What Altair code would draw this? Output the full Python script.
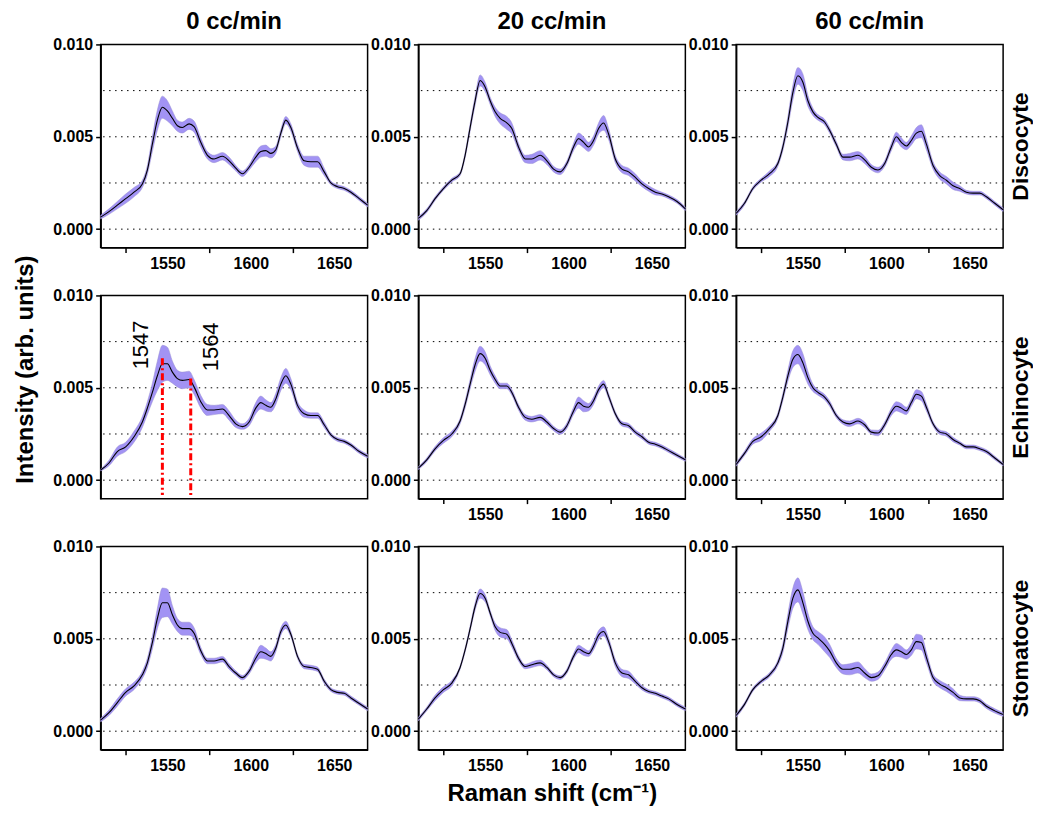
import altair as alt
import pandas as pd

FONT = "Liberation Sans"

# Raman shift sample positions (cm^-1)
shift = [1510, 1515, 1520, 1525, 1530, 1535, 1538, 1541, 1544, 1547, 1550, 1553, 1556, 1559,
         1563, 1566, 1570, 1574, 1578, 1583, 1587, 1591, 1595, 1599, 1603, 1606, 1609, 1612,
         1615, 1618, 1621, 1624, 1628, 1632, 1636, 1640, 1644, 1648, 1652, 1656, 1660, 1665, 1670]

flows = ["0 cc/min", "20 cc/min", "60 cc/min"]
shapes = ["Discocyte", "Echinocyte", "Stomatocyte"]

# mean intensity (x 1e-3) and half band width (x 1e-3)
disc_0_mean = [0.65, 0.95, 1.3, 1.65, 2.0, 2.45, 3.2, 4.6, 5.9, 6.6, 6.4, 6.0, 5.6, 5.5, 5.7, 5.55, 4.7, 4.0, 3.8, 3.95, 3.7, 3.3, 3.0, 3.35, 3.9, 4.2, 4.25, 4.1, 4.3, 5.2, 5.9, 5.5, 4.4, 3.7, 3.65, 3.65, 3.1, 2.5, 2.3, 2.2, 2.0, 1.65, 1.3]
disc_0_band = [.1, .15, .2, .25, .25, .2, .25, .4, .55, .6, .55, .4, .3, .3, .3, .3, .25, .2, .2, .2, .2, .15, .15, .15, .25, .3, .3, .25, .2, .2, .2, .2, .2, .25, .3, .3, .2, .1, .1, .1, .1, .1, .1]
disc_20_mean = [0.58, 1.0, 1.65, 2.2, 2.65, 3.0, 4.0, 5.5, 6.95, 8.05, 7.7, 6.95, 6.35, 6.0, 5.75, 5.45, 4.45, 3.8, 3.8, 4.0, 3.7, 3.25, 3.1, 3.55, 4.45, 4.9, 4.7, 4.45, 4.8, 5.45, 5.75, 5.15, 3.8, 3.25, 3.1, 2.8, 2.45, 2.2, 2.0, 1.9, 1.75, 1.5, 1.1]
disc_20_band = [.1, .1, .1, .1, .1, .1, .15, .2, .25, .3, .25, .2, .25, .3, .35, .3, .2, .2, .25, .25, .2, .15, .15, .15, .2, .3, .3, .25, .25, .3, .4, .3, .2, .2, .2, .2, .15, .15, .15, .1, .1, .1, .1]
disc_60_mean = [0.85, 1.4, 2.2, 2.65, 3.0, 3.55, 4.45, 5.8, 7.4, 8.3, 7.95, 6.95, 6.35, 6.05, 5.8, 5.35, 4.6, 3.9, 3.9, 4.0, 3.75, 3.35, 3.2, 3.55, 4.45, 5.0, 4.7, 4.5, 4.8, 5.2, 5.3, 4.6, 3.45, 2.9, 2.65, 2.35, 2.2, 2.0, 1.95, 1.95, 1.75, 1.4, 1.05]
disc_60_band = [.1, .1, .1, .1, .15, .15, .2, .3, .4, .45, .45, .3, .2, .15, .15, .15, .15, .15, .2, .2, .2, .15, .15, .15, .2, .25, .25, .2, .25, .3, .35, .3, .2, .2, .2, .2, .15, .1, .1, .1, .1, .1, .1]

echi_0_mean = [0.55, 0.93, 1.55, 1.8, 2.35, 3.15, 3.9, 4.75, 5.65, 6.3, 6.3, 5.85, 5.5, 5.4, 5.45, 5.05, 4.25, 3.8, 3.8, 3.85, 3.5, 3.05, 2.9, 3.15, 3.9, 4.2, 4.05, 3.95, 4.4, 5.2, 5.65, 5.2, 4.05, 3.6, 3.5, 3.5, 3.0, 2.45, 2.2, 2.1, 1.9, 1.55, 1.3]
echi_0_band = [.05, .15, .25, .25, .3, .3, .35, .5, .8, 1.0, .9, .6, .45, .45, .45, .4, .35, .3, .25, .25, .25, .2, .15, .2, .3, .35, .3, .25, .3, .35, .4, .3, .2, .2, .15, .15, .15, .1, .1, .1, .1, .1, .1]
echi_20_mean = [0.65, 1.1, 1.7, 2.15, 2.5, 3.2, 4.1, 5.2, 6.25, 6.85, 6.6, 5.95, 5.45, 5.1, 5.1, 4.75, 3.95, 3.4, 3.3, 3.4, 3.15, 2.8, 2.6, 2.95, 3.75, 4.2, 4.0, 3.95, 4.3, 4.9, 5.2, 4.55, 3.6, 3.05, 2.95, 2.6, 2.35, 2.05, 1.95, 1.8, 1.6, 1.35, 1.1]
echi_20_band = [.08, .1, .12, .15, .15, .15, .2, .25, .35, .4, .35, .25, .2, .15, .15, .15, .15, .15, .15, .15, .15, .12, .12, .15, .2, .3, .3, .2, .2, .2, .2, .15, .12, .12, .12, .12, .12, .1, .1, .1, .1, .1, .08]
echi_60_mean = [0.85, 1.45, 2.1, 2.35, 2.8, 3.5, 4.5, 5.65, 6.55, 6.8, 6.35, 5.55, 5.0, 4.75, 4.5, 4.15, 3.5, 3.15, 3.05, 3.2, 3.0, 2.6, 2.55, 3.0, 3.7, 4.0, 3.9, 3.75, 4.2, 4.65, 4.55, 3.95, 3.05, 2.6, 2.5, 2.2, 2.0, 1.8, 1.8, 1.7, 1.55, 1.2, 0.85]
echi_60_band = [.1, .12, .15, .2, .15, .15, .2, .3, .45, .5, .5, .35, .2, .15, .15, .15, .12, .12, .15, .15, .15, .12, .15, .15, .2, .25, .25, .2, .2, .25, .25, .2, .12, .12, .12, .12, .1, .1, .1, .1, .1, .1, .08]

stom_0_mean = [0.6, 1.0, 1.55, 2.1, 2.45, 3.05, 3.7, 4.8, 6.1, 6.95, 6.95, 6.3, 5.75, 5.55, 5.55, 5.3, 4.35, 3.8, 3.8, 3.9, 3.5, 3.15, 2.9, 3.25, 3.95, 4.3, 4.2, 4.05, 4.5, 5.4, 5.75, 5.25, 4.05, 3.5, 3.45, 3.35, 2.7, 2.25, 2.1, 2.05, 1.8, 1.5, 1.2]
stom_0_band = [.1, .15, .2, .2, .2, .2, .25, .35, .55, .8, .75, .5, .35, .35, .35, .3, .2, .15, .15, .15, .15, .12, .12, .15, .25, .35, .3, .25, .2, .2, .2, .15, .12, .12, .12, .12, .12, .1, .1, .1, .1, .1, .1]
stom_20_mean = [0.65, 1.2, 1.8, 2.25, 2.6, 3.45, 4.4, 5.55, 6.75, 7.45, 7.2, 6.4, 5.65, 5.35, 5.25, 4.75, 3.95, 3.5, 3.6, 3.7, 3.45, 3.05, 2.9, 3.25, 4.05, 4.45, 4.3, 4.2, 4.6, 5.2, 5.4, 4.85, 3.7, 3.15, 3.05, 2.7, 2.35, 2.15, 2.05, 1.9, 1.75, 1.45, 1.2]
stom_20_band = [.1, .1, .15, .15, .15, .1, .12, .15, .2, .25, .2, .15, .2, .25, .25, .2, .15, .12, .15, .15, .12, .1, .1, .12, .15, .2, .2, .15, .2, .25, .25, .2, .2, .2, .2, .15, .12, .1, .1, .1, .1, .1, .1]
stom_60_mean = [0.85, 1.45, 2.25, 2.7, 3.05, 3.7, 4.5, 5.95, 7.2, 7.65, 6.95, 5.95, 5.3, 5.05, 4.7, 4.35, 3.7, 3.35, 3.35, 3.45, 3.15, 2.9, 3.0, 3.5, 4.15, 4.4, 4.3, 4.15, 4.4, 4.85, 4.8, 4.0, 2.9, 2.55, 2.35, 2.1, 1.8, 1.75, 1.75, 1.65, 1.35, 1.1, 0.9]
stom_60_band = [.1, .1, .1, .1, .12, .15, .25, .4, .55, .65, .6, .45, .35, .35, .4, .35, .25, .25, .3, .3, .25, .2, .2, .2, .25, .35, .3, .25, .3, .4, .4, .3, .2, .2, .2, .2, .15, .12, .12, .12, .12, .12, .1]

series = {
    ("Discocyte", "0 cc/min"): (disc_0_mean, disc_0_band),
    ("Discocyte", "20 cc/min"): (disc_20_mean, disc_20_band),
    ("Discocyte", "60 cc/min"): (disc_60_mean, disc_60_band),
    ("Echinocyte", "0 cc/min"): (echi_0_mean, echi_0_band),
    ("Echinocyte", "20 cc/min"): (echi_20_mean, echi_20_band),
    ("Echinocyte", "60 cc/min"): (echi_60_mean, echi_60_band),
    ("Stomatocyte", "0 cc/min"): (stom_0_mean, stom_0_band),
    ("Stomatocyte", "20 cc/min"): (stom_20_mean, stom_20_band),
    ("Stomatocyte", "60 cc/min"): (stom_60_mean, stom_60_band),
}
for k, (m, b) in series.items():
    assert len(m) == len(shift) and len(b) == len(shift), (k, len(m), len(b))

grid_levels = [0.0, 0.0025, 0.005, 0.0075]
x_tick_values = [1525, 1550, 1575, 1600, 1625, 1650]
y_tick_values = [0.0, 0.005, 0.010]

# annotation (Echinocyte, 0 cc/min)
peak_pos = [1547, 1564]
peak_top = [0.0066, 0.0055]
peak_bottom = [-0.0008, -0.0008]
peak_label = ["1547", "1564"]
label_x = [1534, 1576]
label_y = [0.0060, 0.0059]

xscale = alt.Scale(domain=[1510, 1670], nice=False, zero=False)
yscale = alt.Scale(domain=[-0.001, 0.010], nice=False, zero=False)

W, H = 268, 204


def x_axis(title=None):
    kw = dict(
        values=x_tick_values, format="d",
        labelExpr="datum.value % 50 === 0 ? datum.label : ''",
        tickOpacity={"condition": {"test": "datum.value % 50 === 0", "value": 0}, "value": 1},
        tickSize=5, labelPadding=3, labelFlush=False, grid=False,
    )
    if title:
        return alt.Axis(title=title, titleFontSize=24, titlePadding=8, **kw)
    return alt.Axis(title=None, **kw)


def panel(shape, flow, ri, ci):
    mean, band = series[(shape, flow)]
    df = pd.DataFrame({
        "x": shift,
        "m": [v * 1e-3 for v in mean],
        "lo": [(v - b) * 1e-3 for v, b in zip(mean, band)],
        "hi": [(v + b) * 1e-3 for v, b in zip(mean, band)],
    })
    xt = "Raman shift (cm\u207b\u00b9)" if (ri == 2 and ci == 1) else None
    xenc = alt.X("x:Q", scale=xscale, axis=x_axis(xt))

    if ri == 1 and ci == 0:
        yaxis = alt.Axis(values=y_tick_values, format=".3f", title="Intensity (arb. units)",
                         titleFontSize=24, titlePadding=15, titleY=74, grid=False,
                         tickSize=5, labelPadding=3, labelFlush=False)
    else:
        yaxis = alt.Axis(values=y_tick_values, format=".3f", title=None, grid=False,
                         tickSize=5, labelPadding=3, labelFlush=False)

    if ci == 2:
        gaxis = alt.Axis(orient="right", title=shape, labels=False, ticks=False, domain=False,
                         grid=False, titleAngle=270, titleBaseline="top", titleFontSize=23,
                         titlePadding=6)
    else:
        gaxis = None

    grid = alt.Chart(pd.DataFrame({"g": grid_levels})).mark_rule(
        color="black", strokeWidth=1, strokeDash=[1.5, 4.5]
    ).encode(y=alt.Y("g:Q", scale=yscale, axis=gaxis))

    area = alt.Chart(df).mark_area(
        color="#a293f4", opacity=1, interpolate="monotone", stroke="#9a90d0", strokeWidth=0.5
    ).encode(x=xenc, y=alt.Y("lo:Q", scale=yscale, axis=yaxis), y2="hi:Q")

    line = alt.Chart(df).mark_line(color="black", strokeWidth=1.1, interpolate="monotone").encode(
        x=xenc, y=alt.Y("m:Q", scale=yscale, axis=None)
    )

    layers = [grid, area, line]
    if ri == 1 and ci == 0:
        ann = pd.DataFrame({"x": peak_pos, "top": peak_top, "bot": peak_bottom,
                            "t": peak_label, "tx": label_x, "ty": label_y})
        rules = alt.Chart(ann).mark_rule(color="#ff0000", strokeWidth=3, strokeDash=[7, 3, 2, 3]).encode(
            x=alt.X("x:Q", scale=xscale, axis=None),
            y=alt.Y("top:Q", scale=yscale, axis=None), y2="bot:Q")
        texts = alt.Chart(ann).mark_text(angle=270, align="left", baseline="middle", fontSize=22,
                                         font=FONT, color="black").encode(
            x=alt.X("tx:Q", scale=xscale, axis=None),
            y=alt.Y("ty:Q", scale=yscale, axis=None), text="t:N")
        layers += [rules, texts]

    ch = alt.layer(*layers).properties(width=W, height=H).resolve_axis(y="independent")
    if ri == 0:
        ch = ch.properties(title=alt.Title(flow, fontSize=24, font=FONT, fontWeight="bold",
                                           anchor="middle", offset=2))
    return ch


charts = [panel(s, f, ri, ci) for ri, s in enumerate(shapes) for ci, f in enumerate(flows)]

chart = alt.concat(*charts, columns=3, spacing={"row": 48, "column": 51}, bounds="flush").properties(
    padding={"left": 5, "top": 0, "right": 0, "bottom": 0}
).configure_view(
    stroke="black", strokeWidth=1.5
).configure_axis(
    labelFont=FONT, labelFontSize=16, labelFontWeight="bold", labelColor="black",
    titleFont=FONT, titleFontWeight="bold", titleColor="black",
    domainColor="black", domainWidth=1.5, tickColor="black", tickWidth=1.5
).configure_title(font=FONT, color="black")

chart.save("out.html", embed_options={"renderer": "svg", "actions": False})
